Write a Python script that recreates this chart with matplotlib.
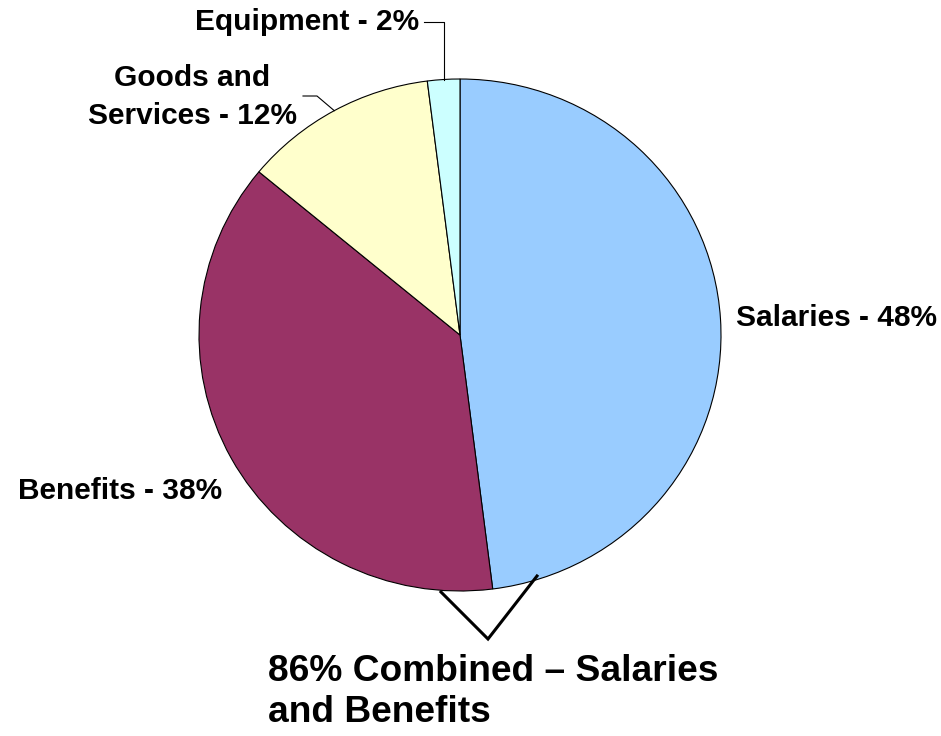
import numpy as np
import matplotlib.pyplot as plt

# budget shares
labels = ['Salaries', 'Benefits', 'Goods and\nServices', 'Equipment']
shares = [48, 38, 12, 2]
colors = ['#99CCFF', '#993366', '#FFFFCC', '#CCFFFF']

plt.rcParams['font.family'] = ['Liberation Sans', 'DejaVu Sans']
plt.rcParams['font.weight'] = 'bold'

W, H = 941, 736
fig = plt.figure(figsize=(W / 100, H / 100), dpi=100)

# pie area in pixels (slightly wider than tall)
cx, cy, rx, ry = 460, 335, 261, 256
ax = fig.add_axes([(cx - rx) / W, (H - cy - ry) / H, 2 * rx / W, 2 * ry / H])

wedges, _ = ax.pie(shares, colors=colors, startangle=90, counterclock=False,
                   wedgeprops=dict(edgecolor='black', linewidth=0.8))
ax.set_aspect('auto')
ax.set_xlim(-1, 1)
ax.set_ylim(-1, 1)


def px(x, y):
    # pixel position -> pie data coordinates
    return (x - cx) / rx, (cy - y) / ry


def mid(w):
    a = np.deg2rad((w.theta1 + w.theta2) / 2)
    return np.cos(a), np.sin(a)


fs = 21.5
txt = dict(fontsize=fs, fontweight='bold', clip_on=False)

# Salaries
x, y = px(736, 318)
ax.text(x, y, f'{labels[0]} - {shares[0]}%', ha='left', va='center', **txt)

# Benefits
x, y = px(18, 491)
ax.text(x, y, f'{labels[1]} - {shares[1]}%', ha='left', va='center', **txt)

# Goods and Services with leader line
x, y = px(192.5, 97)
ax.text(x, y, f'{labels[2]} - {shares[2]}%', ha='center', va='center',
        multialignment='center', linespacing=1.42, **txt)
gx, gy = mid(wedges[2])
p1 = px(317, 96)
p2 = px(303, 96)
ax.plot([gx, p1[0], p2[0]], [gy, p1[1], p2[1]], color='black', lw=0.8, clip_on=False)

# Equipment with leader line
x, y = px(419, 22)
ax.text(x, y, f'{labels[3]} - {shares[3]}%', ha='right', va='center', **txt)
ex, ey = mid(wedges[3])
p1 = px(424, 22)
ax.plot([ex, ex, p1[0]], [ey, p1[1], p1[1]], color='black', lw=0.8, clip_on=False)

# bracket for combined share
a = px(441, 592)
b = px(488, 639)
c = px(537, 576)
ax.plot([a[0], b[0], c[0]], [a[1], b[1], c[1]], color='black', lw=2.2,
        clip_on=False, solid_joinstyle='miter')
combined = shares[0] + shares[1]
x, y = px(268, 654)
ax.text(x, y, f'{combined}% Combined \u2013 Salaries\nand Benefits', ha='left', va='top',
        fontsize=26.7, fontweight='bold', linespacing=1.24, clip_on=False)

fig.savefig('out.png', dpi=100)
